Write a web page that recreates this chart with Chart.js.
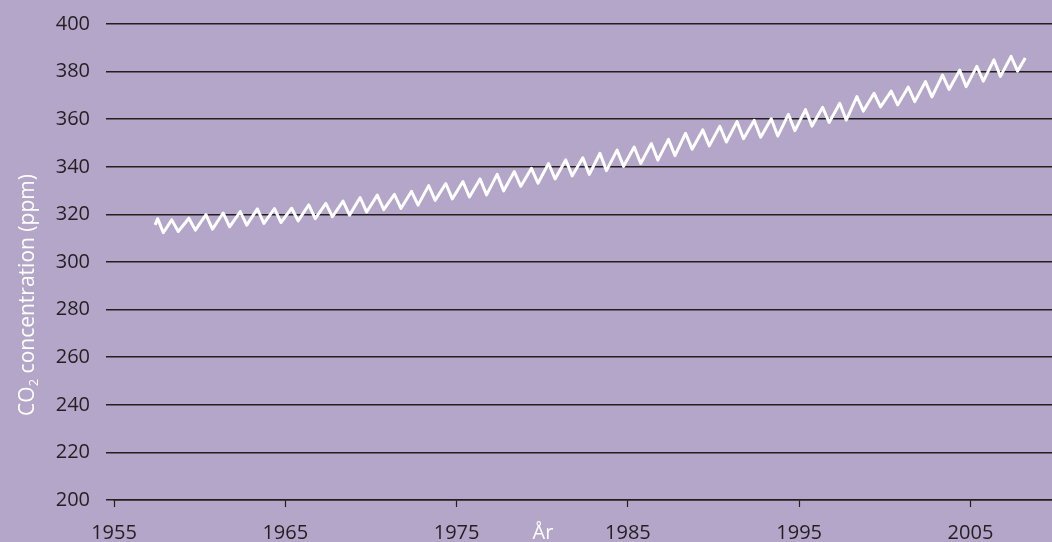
<!DOCTYPE html>
<html>
<head>
<meta charset="utf-8">
<script src="https://cdn.jsdelivr.net/npm/chart.js@4.4.1/dist/chart.umd.min.js"></script>
<style>
  html, body { margin: 0; padding: 0; background: #b4a6c8; }
  #wrap { width: 1052px; height: 542px; }
</style>
</head>
<body>
<div id="wrap"><canvas id="co2"></canvas></div>
<script>
// CO2 at Mauna Loa, seasonal highs and lows
const sampleYears = [
  1957.40, 1957.55, 1957.88, 1958.37, 1958.75, 1959.37, 1959.75, 1960.37, 1960.75,
  1961.37, 1961.75, 1962.37, 1962.75, 1963.37, 1963.75, 1964.37, 1964.75,
  1965.37, 1965.75, 1966.37, 1966.75, 1967.37, 1967.75, 1968.37, 1968.75,
  1969.37, 1969.75, 1970.37, 1970.75, 1971.37, 1971.75, 1972.37, 1972.75,
  1973.37, 1973.75, 1974.37, 1974.75, 1975.37, 1975.75, 1976.37, 1976.75,
  1977.37, 1977.75, 1978.37, 1978.75, 1979.37, 1979.75, 1980.37, 1980.75,
  1981.37, 1981.75, 1982.37, 1982.75, 1983.37, 1983.75, 1984.37, 1984.75,
  1985.37, 1985.75, 1986.37, 1986.75, 1987.37, 1987.75, 1988.37, 1988.75,
  1989.37, 1989.75, 1990.37, 1990.75, 1991.37, 1991.75, 1992.37, 1992.75,
  1993.37, 1993.75, 1994.37, 1994.75, 1995.37, 1995.75, 1996.37, 1996.75,
  1997.37, 1997.75, 1998.37, 1998.75, 1999.37, 1999.75, 2000.37, 2000.75,
  2001.37, 2001.75, 2002.37, 2002.75, 2003.37, 2003.75, 2004.37, 2004.75,
  2005.37, 2005.75, 2006.37, 2006.75, 2007.37, 2007.75, 2008.20
];
const ppmValues = [
  315.6, 318.2, 312.3, 317.7, 312.8, 318.4, 313.4, 319.9, 313.8,
  320.6, 314.8, 321.2, 315.5, 322.3, 316.2, 322.4, 316.6,
  322.6, 317.3, 324.0, 318.2, 324.6, 319.0, 325.6, 319.7,
  327.1, 321.0, 328.1, 322.0, 328.4, 322.5, 329.7, 323.9,
  332.1, 325.9, 333.0, 326.5, 333.8, 327.3, 334.9, 328.2,
  336.8, 329.9, 338.0, 331.8, 339.4, 333.1, 341.4, 334.9,
  342.9, 336.2, 343.8, 336.8, 345.7, 338.4, 347.0, 340.2,
  348.3, 341.4, 349.8, 342.8, 351.5, 344.7, 354.1, 347.4,
  355.5, 348.8, 357.0, 350.4, 359.0, 351.8, 359.5, 352.4,
  360.2, 352.9, 362.0, 355.2, 364.0, 357.1, 365.0, 358.6,
  366.7, 359.6, 369.5, 363.4, 370.9, 365.2, 371.8, 366.0,
  373.5, 367.4, 375.8, 369.4, 378.5, 372.5, 380.6, 373.7,
  382.2, 376.0, 384.9, 378.0, 386.4, 380.2, 385.7
];

const xTickYears = [1955, 1965, 1975, 1985, 1995, 2005];
const yTickValues = [200, 220, 240, 260, 280, 300, 320, 340, 360, 380, 400];

const xTitle = 'År';
const yTitleMain = 'CO';
const yTitleSub = '2';
const yTitleRest = ' concentration (ppm)';

const ink = '#231f20';
const tickFont = { family: '"Open Sans", sans-serif', size: 20 };

// axis titles drawn by hand so they sit where the original has them
const axisTitles = {
  id: 'axisTitles',
  afterDraw(chart) {
    const { ctx } = chart;
    ctx.save();
    ctx.fillStyle = '#ffffff';
    ctx.font = '20px "Open Sans", sans-serif';
    ctx.textAlign = 'center';
    ctx.textBaseline = 'alphabetic';
    ctx.fillText(xTitle, 543, 539);

    // rotated y title with a subscript 2
    const big = '21px "Open Sans", sans-serif';
    const small = '13px "Open Sans", sans-serif';
    ctx.translate(34, 295);
    ctx.rotate(-Math.PI / 2);
    ctx.textAlign = 'left';
    ctx.font = big;
    const w1 = ctx.measureText(yTitleMain).width;
    const w3 = ctx.measureText(yTitleRest).width;
    ctx.font = small;
    const w2 = ctx.measureText(yTitleSub).width;
    let x = -(w1 + w2 + w3) / 2;
    ctx.font = big;
    ctx.fillText(yTitleMain, x, 0);
    x += w1;
    ctx.font = small;
    ctx.fillText(yTitleSub, x, 4);
    x += w2;
    ctx.font = big;
    ctx.fillText(yTitleRest, x, 0);
    ctx.restore();
  }
};

new Chart(document.getElementById('co2'), {
  type: 'line',
  data: {
    datasets: [{
      data: sampleYears.map((yr, i) => ({ x: yr, y: ppmValues[i] })),
      borderColor: '#ffffff',
      borderWidth: 3,
      borderJoinStyle: 'round',
      pointRadius: 0,
      tension: 0,
      fill: false
    }]
  },
  options: {
    responsive: true,
    maintainAspectRatio: false,
    animation: false,
    layout: { padding: { top: 24, right: 0, left: 0, bottom: 0 } },
    plugins: {
      legend: { display: false },
      tooltip: { enabled: false }
    },
    scales: {
      x: {
        type: 'linear',
        min: 1955,
        max: 2009.76,
        afterBuildTicks: (axis) => { axis.ticks = xTickYears.map((v) => ({ value: v })); },
        afterFit: (axis) => { axis.height = 42; },
        border: { display: true, color: ink, width: 1.5 },
        grid: {
          drawOnChartArea: false,
          drawTicks: true,
          tickLength: 7,
          tickColor: ink,
          tickWidth: 1.2
        },
        ticks: {
          color: ink,
          font: tickFont,
          padding: 14,
          maxRotation: 0,
          callback: (v) => String(v)
        }
      },
      y: {
        min: 200,
        max: 400,
        afterBuildTicks: (axis) => { axis.ticks = yTickValues.map((v) => ({ value: v })); },
        afterFit: (axis) => {
          axis.width = 114;
          // tick padding would otherwise push the plot area down
          axis.paddingTop = 0;
          axis.paddingBottom = 0;
        },
        border: { display: false },
        grid: {
          color: ink,
          lineWidth: 1.5,
          drawTicks: true,
          tickLength: 8
        },
        ticks: {
          color: ink,
          font: tickFont,
          padding: 16,
          callback: (v) => String(v)
        }
      }
    }
  },
  plugins: [axisTitles]
});
</script>
</body>
</html>
